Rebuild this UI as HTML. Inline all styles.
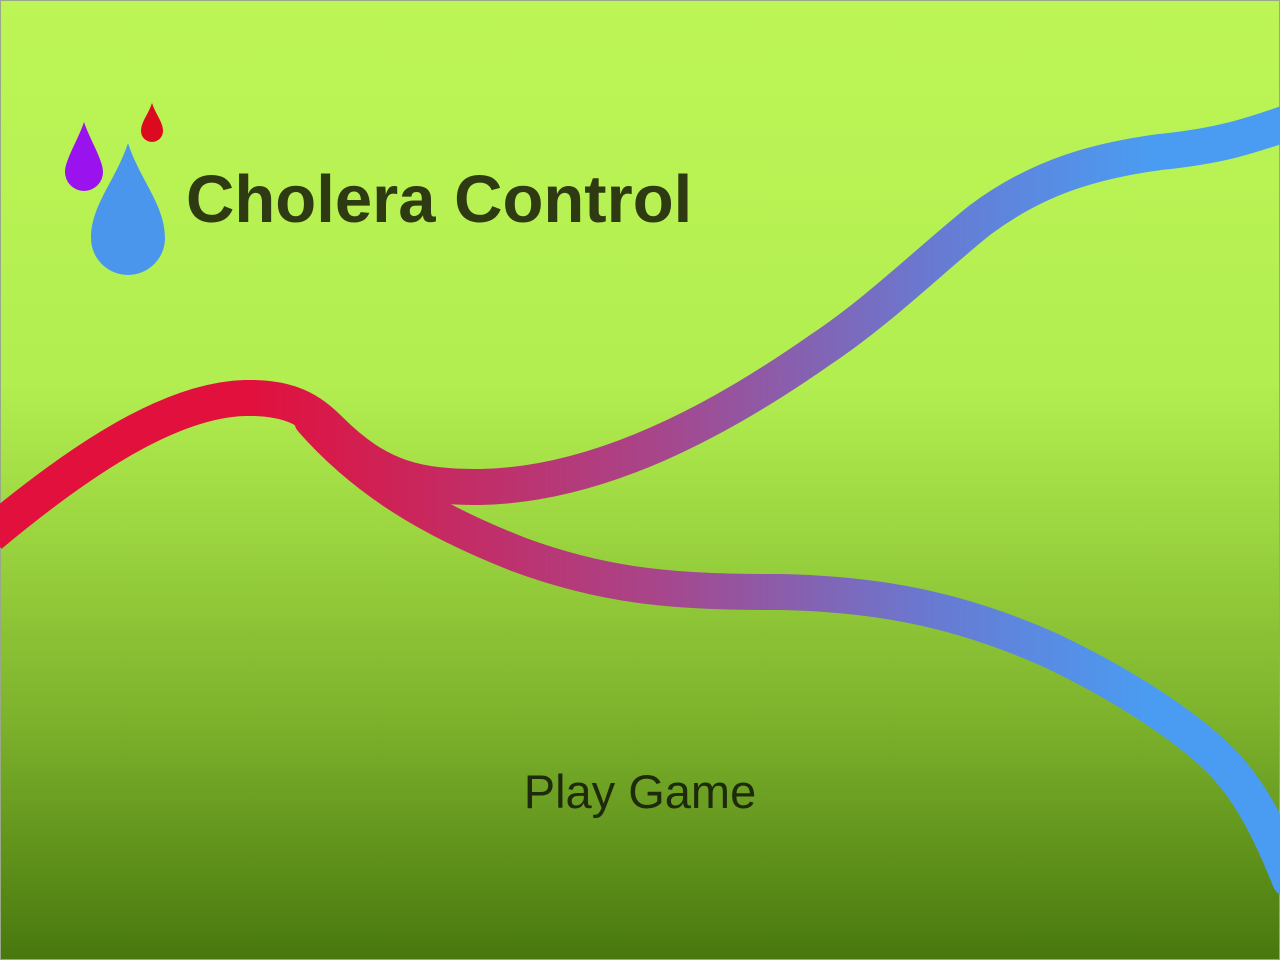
<!DOCTYPE html>
<html><head><meta charset="utf-8">
<style>
html,body{margin:0;padding:0;width:1280px;height:960px;overflow:hidden;background:#8cc43a}
svg{display:block}
</style></head>
<body>
<svg width="1280" height="960" viewBox="0 0 1280 960">
<defs>
<linearGradient id="bg" x1="0" y1="0" x2="0" y2="1">
<stop offset="0" stop-color="#bdf556"/>
<stop offset="0.4" stop-color="#b2ee50"/>
<stop offset="0.55" stop-color="#9cd640"/>
<stop offset="0.75" stop-color="#7db22c"/>
<stop offset="1" stop-color="#48780e"/>
</linearGradient>
<linearGradient id="river" gradientUnits="userSpaceOnUse" x1="250" y1="0" x2="1150" y2="0">
<stop offset="0" stop-color="#e2103c"/>
<stop offset="0.45" stop-color="#a8458a"/>
<stop offset="0.75" stop-color="#6a78d0"/>
<stop offset="1" stop-color="#4a9cf2"/>
</linearGradient>
</defs>
<rect x="0" y="0" width="1280" height="960" fill="url(#bg)"/>
<rect x="0.5" y="0.5" width="1279" height="959" fill="none" stroke="#9aa88a" stroke-width="1"/>

<path fill="none" stroke="url(#river)" stroke-width="36" stroke-linecap="round"
 d="M312,420 C365,480 430,520 520,555 C610,588 680,592 780,592 C880,594 960,610 1050,650 C1130,688 1190,730 1220,760 C1250,790 1270,830 1290,880"/>
<path fill="none" stroke="url(#river)" stroke-width="36" stroke-linecap="butt"
 d="M-10,535 C80,460 170,400 245,398 C290,397 310,410 330,430 C380,480 420,487 480,487 C600,485 720,420 820,350 C880,310 930,260 980,220 C1040,175 1100,160 1160,152 C1220,146 1250,136 1290,122"/>

<path fill="#9a12ee" d="M84,122 C90,140 103,160 103,172 A19,19 0 0 1 65,172 C65,160 78,140 84,122 Z"/>
<path fill="#dc0a1e" d="M152,103 C156,115 163,122 163,131 A11,11 0 0 1 141,131 C141,122 148,115 152,103 Z"/>
<path fill="#4a96ec" d="M128,143 C140,180 165,205 165,238 A37,37 0 0 1 91,238 C91,205 116,180 128,143 Z"/>

<text x="186" y="222" font-family="Liberation Sans, sans-serif" font-weight="bold" font-size="67" fill="#2e3a12">Cholera Control</text>
<text x="640" y="808" text-anchor="middle" font-family="Liberation Sans, sans-serif" font-weight="300" font-size="47" fill="#1e2a0c">Play Game</text>
</svg>
</body></html>
